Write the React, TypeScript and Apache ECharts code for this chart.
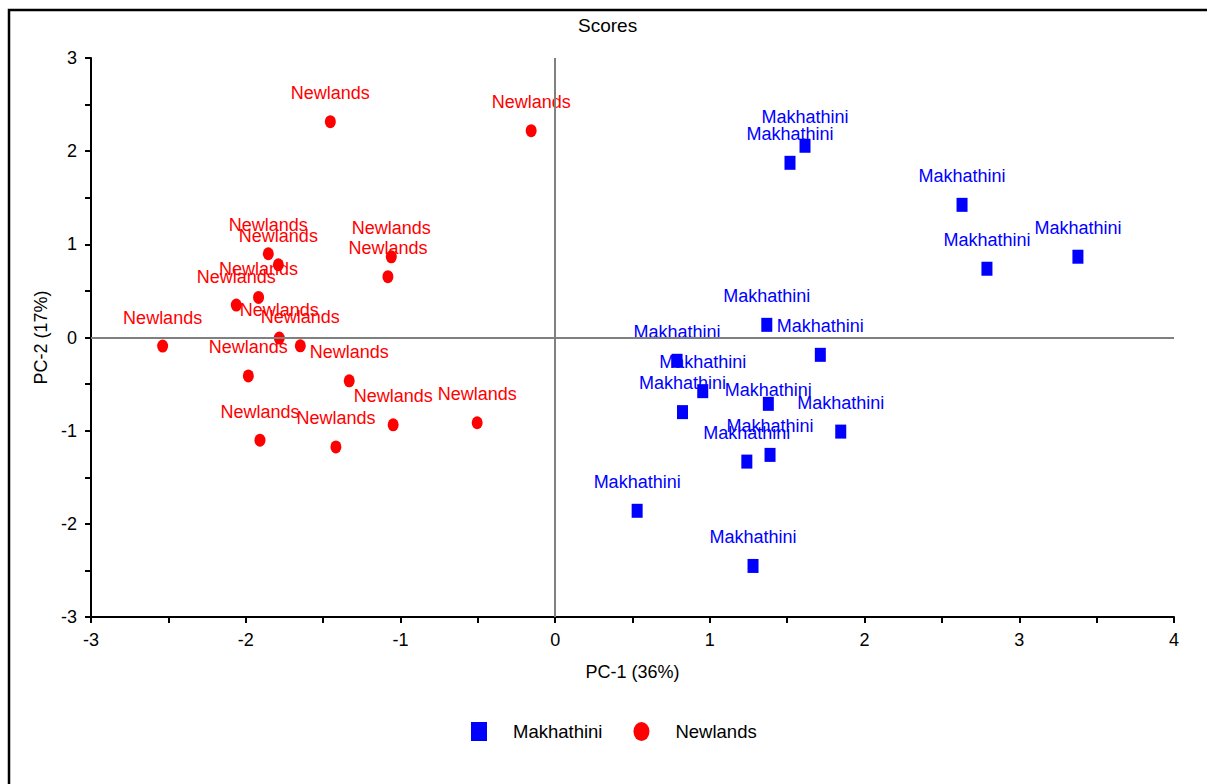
import React, { useEffect, useRef } from "react";
import * as echarts from "echarts";

// PCA score coordinates [PC-1, PC-2]
const makhathiniScores: [number, number][] = [
  [1.615, 2.058],
  [1.518, 1.875],
  [2.63, 1.424],
  [3.379, 0.867],
  [2.791, 0.738],
  [1.368, 0.136],
  [1.714, -0.186],
  [0.788, -0.25],
  [0.954, -0.576],
  [1.378, -0.712],
  [0.823, -0.801],
  [1.846, -1.01],
  [1.389, -1.26],
  [1.239, -1.332],
  [0.53, -1.86],
  [1.279, -2.452],
];

const newlandsScores: [number, number][] = [
  [-1.453, 2.317],
  [-0.155, 2.22],
  [-1.854, 0.899],
  [-1.789, 0.781],
  [-1.059, 0.866],
  [-1.081, 0.653],
  [-1.917, 0.43],
  [-2.061, 0.348],
  [-2.537, -0.092],
  [-1.783, -0.006],
  [-1.647, -0.089],
  [-1.983, -0.412],
  [-1.331, -0.465],
  [-1.047, -0.937],
  [-0.504, -0.915],
  [-1.908, -1.102],
  [-1.417, -1.174],
];

const groupNames = ["Makhathini", "Newlands"];
const axisNames = { x: "PC-1 (36%)", y: "PC-2 (17%)" };
const chartTitle = "Scores";

// label nudges (pixel offsets) for crowded points, keyed by point index
const makhathiniLabelNudge: Record<number, [number, number]> = { 9: [0, 15] };

const FONT = "'Liberation Sans', Arial, sans-serif";
const ELLIPSE = "path://M0,6.5A5.5,6.5,0,1,0,11,6.5A5.5,6.5,0,1,0,0,6.5Z";

export default function App() {
  const ref = useRef<HTMLDivElement>(null);

  useEffect(() => {
    if (!ref.current) return;
    const chart = echarts.init(ref.current, null, { renderer: "svg" });

    const axisCommon = {
      type: "value" as const,
      interval: 1,
      nameLocation: "middle" as const,
      nameTextStyle: { color: "#000", fontSize: 18, fontFamily: FONT },
      axisLine: { onZero: false, lineStyle: { color: "#000", width: 2 } },
      axisTick: { show: true, length: 6, lineStyle: { color: "#000", width: 2 } },
      minorTick: { show: true, splitNumber: 2, length: 6, lineStyle: { color: "#000", width: 2 } },
      axisLabel: { color: "#000", fontSize: 18, fontFamily: FONT, margin: 14 },
      splitLine: { show: false },
      minorSplitLine: { show: false },
    };

    const labelFor = (color: string) => ({
      show: true,
      position: "top" as const,
      distance: 13,
      color,
      opacity: 1,
      fontSize: 18,
      fontFamily: FONT,
    });

    chart.setOption({
      animation: false,
      backgroundColor: "#fff",
      textStyle: { fontFamily: FONT },
      title: {
        text: chartTitle,
        left: 578,
        top: 16,
        padding: 0,
        textStyle: { color: "#000", fontSize: 19, fontWeight: "normal", fontFamily: FONT },
      },
      legend: {
        left: 471,
        top: 722,
        padding: 0,
        itemWidth: 16,
        itemHeight: 19,
        itemGap: 31,
        symbolKeepAspect: false,
        textStyle: { color: "#000", fontSize: 18.5, fontFamily: FONT, padding: [0, 0, 0, 21] },
        data: [
          { name: groupNames[0], icon: "rect", itemStyle: { opacity: 1 } },
          { name: groupNames[1], icon: ELLIPSE, itemStyle: { opacity: 1 } },
        ],
      },
      grid: { left: 91, right: 33, top: 58, bottom: 167, containLabel: false },
      xAxis: { ...axisCommon, min: -3, max: 4, name: axisNames.x, nameGap: 46 },
      yAxis: { ...axisCommon, min: -3, max: 3, name: axisNames.y, nameGap: 25 },
      graphic: [
        {
          type: "rect",
          silent: true,
          z: -10,
          shape: { x: 9, y: 10, width: 1400, height: 1000 },
          style: { fill: "none", stroke: "#000", lineWidth: 2.5 },
        },
      ],
      series: [
        {
          type: "scatter",
          name: "zero-lines",
          z: 1,
          data: [],
          silent: true,
          markLine: {
            silent: true,
            symbol: ["none", "none"],
            label: { show: false },
            emphasis: { disabled: true },
            lineStyle: { color: "#808080", width: 2, type: "solid" },
            data: [{ xAxis: 0 }, { yAxis: 0 }],
          },
        },
        {
          type: "scatter",
          name: groupNames[0],
          z: 3,
          symbol: "rect",
          symbolSize: [11, 14],
          itemStyle: { color: "#0000ff", opacity: 1 },
          label: { ...labelFor("#0000ff"), formatter: groupNames[0] },
          emphasis: { disabled: true },
          data: makhathiniScores.map((v, i) =>
            makhathiniLabelNudge[i]
              ? { value: v, label: { offset: makhathiniLabelNudge[i] } }
              : { value: v }
          ),
        },
        {
          type: "scatter",
          name: groupNames[1],
          z: 3,
          symbol: ELLIPSE,
          symbolSize: [11, 13],
          itemStyle: { color: "#ff0000", opacity: 1 },
          label: { ...labelFor("#ff0000"), formatter: groupNames[1] },
          emphasis: { disabled: true },
          data: newlandsScores.map((v) => ({ value: v })),
        },
      ],
    });

    return () => chart.dispose();
  }, []);

  return (
    <div
      ref={ref}
      style={{ position: "absolute", left: 0, top: 0, width: 1207, height: 784, background: "#fff" }}
    />
  );
}
